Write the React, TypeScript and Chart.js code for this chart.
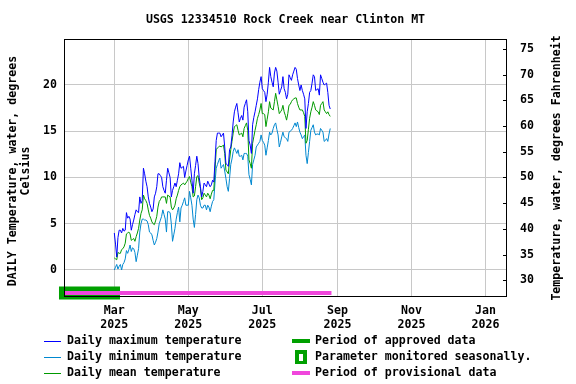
import { useEffect, useRef } from "react";
import { Chart, registerables } from "chart.js";

Chart.register(...registerables);

// Day index: 0 = 2025-01-01. First daily value is 2025-03-01.
const firstDay = 59;

const dailyMax = [
  4.0, 2.8, 1.4, 3.5, 4.3, 4.3, 4.0, 4.5, 4.2, 4.3,
  6.2, 5.6, 5.8, 5.5, 4.3, 4.9, 5.4, 6.0, 6.5, 6.3,
  6.2, 7.9, 7.2, 7.5, 11.0, 10.4, 9.6, 9.0, 7.9, 7.2,
  6.8, 6.3, 6.6, 7.9, 8.3, 9.0, 10.4, 10.4, 10.2, 10.0,
  9.0, 8.6, 8.3, 9.7, 11.0, 10.5, 10.0, 7.9, 8.6, 9.0,
  9.4, 9.0, 9.7, 10.4, 11.6, 11.0, 11.1, 11.2, 10.0, 10.7,
  11.3, 11.9, 12.3, 11.0, 9.7, 8.3, 10.4, 11.3, 12.3, 11.5,
  10.0, 9.0, 7.9, 8.5, 9.4, 9.2, 9.0, 9.6, 9.3, 9.0,
  9.2, 9.7, 9.5, 11.7, 14.0, 14.8, 14.8, 14.8, 14.4, 14.6,
  14.8, 13.3, 11.5, 11.4, 11.2, 13.0, 13.3, 14.5, 16.0, 17.1,
  17.6, 18.0, 17.0, 16.0, 16.4, 16.7, 16.2, 17.6, 18.0, 18.4,
  17.1, 14.0, 13.5, 12.6, 15.7, 16.5, 17.1, 17.8, 18.5, 19.5,
  20.3, 20.9, 19.6, 19.4, 19.2, 18.2, 19.0, 20.3, 21.9, 20.9,
  20.3, 19.8, 21.3, 21.9, 21.5, 20.3, 19.0, 19.4, 19.8, 20.9,
  19.6, 19.2, 18.5, 19.0, 21.1, 20.8, 20.5, 21.1, 21.5, 21.9,
  21.7, 20.7, 20.0, 19.4, 20.0, 19.4, 19.0, 18.5, 15.3, 17.1,
  18.0, 19.2, 19.4, 20.2, 21.1, 20.9, 19.4, 19.5, 19.6, 18.9,
  21.1, 20.7, 20.3, 20.0, 20.1, 20.2, 19.2, 17.8, 17.4,
];

const dailyMin = [
  0.0, 0.3, 0.6, 0.1, 0.4, 0.6, 0.0, 0.6, 0.8, 1.2,
  2.1, 1.8, 2.2, 2.7, 2.0, 2.4, 2.3, 1.9, 0.9, 1.6,
  2.3, 4.1, 5.0, 5.5, 5.5, 5.4, 5.4, 5.3, 4.9, 4.1,
  4.0, 3.8, 3.2, 2.7, 3.0, 3.4, 4.1, 5.0, 5.4, 5.8,
  6.5, 6.0, 5.5, 4.1, 6.3, 6.3, 6.2, 5.0, 3.1, 3.8,
  4.5, 5.5, 6.2, 6.8, 5.2, 6.7, 7.0, 7.4, 7.8, 7.0,
  7.0, 7.0, 8.5, 7.8, 7.0, 5.5, 4.6, 6.0, 7.6, 8.1,
  7.8, 7.0, 6.7, 6.7, 7.0, 7.0, 6.5, 7.0, 6.8, 6.3,
  6.9, 7.4, 7.6, 9.4, 11.0, 11.4, 11.8, 12.1, 11.0, 11.2,
  11.4, 10.7, 9.9, 9.0, 8.5, 9.9, 11.4, 12.0, 12.8, 13.2,
  12.9, 12.6, 13.0, 12.3, 12.3, 12.4, 11.9, 12.6, 12.6, 12.6,
  12.3, 10.3, 9.8, 9.2, 11.4, 11.9, 12.4, 13.3, 13.5, 13.7,
  13.9, 14.6, 14.0, 13.8, 13.5, 12.4, 13.2, 14.0, 14.9, 14.6,
  14.8, 15.3, 15.7, 15.9, 15.2, 14.6, 13.3, 13.8, 14.4, 14.9,
  14.4, 14.3, 14.2, 13.9, 14.9, 15.0, 15.1, 15.3, 15.6, 15.9,
  15.5, 16.0, 15.4, 14.9, 14.6, 14.2, 14.4, 14.6, 12.4, 11.5,
  12.7, 13.9, 15.1, 15.4, 15.7, 14.9, 14.6, 14.7, 14.7, 14.6,
  15.3, 15.1, 14.9, 13.9, 14.0, 14.2, 13.9, 14.7, 15.3,
];

const dailyMean = [
  1.3, 1.2, 1.1, 1.9, 1.8, 1.8, 2.2, 2.3, 2.5, 2.9,
  3.9, 4.0, 4.1, 3.9, 3.2, 3.3, 3.4, 3.1, 3.6, 4.0,
  4.5, 5.4, 6.1, 6.5, 8.1, 7.7, 7.5, 7.2, 6.5, 5.9,
  5.6, 5.2, 5.0, 4.9, 5.3, 5.8, 6.8, 7.4, 7.6, 7.9,
  7.9, 7.9, 7.9, 7.2, 8.1, 8.0, 7.9, 6.8, 6.5, 6.7,
  7.0, 7.7, 8.1, 8.6, 9.0, 9.2, 9.3, 9.4, 9.2, 9.4,
  9.6, 9.9, 10.1, 9.5, 9.0, 7.9, 8.0, 9.0, 10.1, 10.2,
  9.4, 8.8, 7.6, 7.8, 8.3, 8.1, 7.9, 8.3, 8.1, 7.7,
  8.2, 8.6, 8.6, 10.8, 13.0, 13.2, 13.3, 13.4, 13.3, 13.4,
  13.5, 12.6, 10.8, 10.6, 10.4, 11.9, 13.0, 13.9, 14.8, 15.5,
  15.6, 15.7, 15.1, 14.6, 14.7, 14.8, 14.4, 15.3, 15.6, 15.9,
  15.1, 11.9, 11.5, 11.0, 13.7, 14.4, 15.1, 15.7, 16.4, 16.8,
  17.3, 18.0, 16.9, 16.9, 16.8, 15.5, 16.3, 17.1, 18.2, 17.5,
  17.4, 17.3, 18.2, 19.1, 18.4, 17.7, 16.9, 17.1, 17.3, 17.8,
  17.1, 16.7, 16.2, 16.9, 17.8, 17.9, 18.2, 18.4, 18.5, 18.6,
  18.6, 18.0, 17.6, 17.3, 17.3, 17.3, 17.0, 16.6, 13.7, 14.0,
  15.2, 16.4, 17.1, 17.6, 18.2, 17.8, 17.3, 17.2, 17.1, 16.8,
  17.8, 18.0, 18.2, 17.3, 17.1, 16.9, 17.1, 16.8, 16.6,
];

const tickDays = [59, 120, 181, 243, 304, 365];
const tickMonths = ["Mar", "May", "Jul", "Sep", "Nov", "Jan"];
const tickYears = ["2025", "2025", "2025", "2025", "2025", "2026"];
const celsiusTicks = [0, 5, 10, 15, 20];
const fahrenheitTicks = [30, 35, 40, 45, 50, 55, 60, 65, 70, 75];

const approvedPeriod = [13.4, 63.7];
const provisionalPeriod = [17.53, 238];
const periodBarLevel = -2.5;

const X_MIN = 17.53;
const X_MAX = 382.7;
const C_MIN = -2.92;
const C_MAX = 24.97;

const FAMILY = "'DejaVu Sans Mono', monospace";
const FONT_SIZE = 11.6;

const COLOR_MAX = "#0000ff";
const COLOR_MIN = "#0088d0";
const COLOR_MEAN = "#009a00";
const COLOR_APPROVED = "#00a000";
const COLOR_PROV = "#f046dc";

const toPts = (arr: number[]) => arr.map((v, i) => ({ x: firstDay + i, y: v }));

const decor = {
  id: "decor",
  afterDatasetsDraw(chart: any) {
    const { ctx, chartArea, scales } = chart;
    ctx.save();
    // right-axis inward tick marks
    ctx.strokeStyle = "#000";
    ctx.lineWidth = 1;
    const y2 = scales.y2;
    ctx.beginPath();
    for (const f of fahrenheitTicks) {
      const py = Math.round(y2.getPixelForValue(f)) + 0.5;
      ctx.moveTo(chartArea.right - 4, py);
      ctx.lineTo(chartArea.right, py);
    }
    ctx.stroke();
    // plot frame
    ctx.strokeRect(
      chartArea.left + 0.5,
      chartArea.top + 0.5,
      chartArea.right - chartArea.left - 1,
      chartArea.bottom - chartArea.top - 1
    );
    ctx.restore();
  },
  afterDraw(chart: any) {
    const { ctx, chartArea } = chart;
    ctx.save();
    ctx.fillStyle = "#000";
    ctx.font = `bold ${FONT_SIZE}px ${FAMILY}`;
    ctx.textBaseline = "middle";
    // title
    ctx.textAlign = "center";
    ctx.fillText("USGS 12334510 Rock Creek near Clinton MT", (chartArea.left + chartArea.right) / 2, 20);
    // left axis title
    const midY = (chartArea.top + chartArea.bottom) / 2;
    ctx.save();
    ctx.translate(13, midY + 3);
    ctx.rotate(-Math.PI / 2);
    ctx.fillText("DAILY Temperature, water, degrees", 0, 0);
    ctx.restore();
    ctx.save();
    ctx.translate(25.5, midY + 3);
    ctx.rotate(-Math.PI / 2);
    ctx.fillText("Celsius", 0, 0);
    ctx.restore();
    // right axis title
    ctx.save();
    ctx.translate(557, midY);
    ctx.rotate(-Math.PI / 2);
    ctx.fillText("Temperature, water, degrees Fahrenheit", 0, 0);
    ctx.restore();

    // legend
    ctx.textAlign = "left";
    const rows = [341, 357, 373];
    const left = [
      { label: "Daily maximum temperature", color: COLOR_MAX },
      { label: "Daily minimum temperature", color: COLOR_MIN },
      { label: "Daily mean temperature", color: COLOR_MEAN },
    ];
    left.forEach((it, i) => {
      const y = rows[i] + 0.5;
      ctx.strokeStyle = it.color;
      ctx.lineWidth = 1;
      ctx.beginPath();
      ctx.moveTo(44, y);
      ctx.lineTo(61, y);
      ctx.stroke();
      ctx.fillStyle = "#000";
      ctx.fillText(it.label, 67, rows[i]);
    });
    // approved
    ctx.fillStyle = COLOR_APPROVED;
    ctx.fillRect(292, rows[0] - 2, 18, 4);
    ctx.fillStyle = "#000";
    ctx.fillText("Period of approved data", 315, rows[0]);
    // seasonal icon
    ctx.fillStyle = COLOR_APPROVED;
    ctx.fillRect(295, rows[1] - 7, 12, 14);
    ctx.fillStyle = "#fff";
    ctx.fillRect(299, rows[1] - 3, 4, 7);
    ctx.fillStyle = "#000";
    ctx.fillText("Parameter monitored seasonally.", 315, rows[1]);
    // provisional
    ctx.fillStyle = COLOR_PROV;
    ctx.fillRect(292, rows[2] - 2, 18, 4);
    ctx.fillStyle = "#000";
    ctx.fillText("Period of provisional data", 315, rows[2]);
    ctx.restore();
  },
};

export default function App() {
  const ref = useRef<HTMLCanvasElement | null>(null);
  useEffect(() => {
    if (!ref.current) return;
    const font = { family: FAMILY, size: FONT_SIZE, weight: "bold" as const, lineHeight: 1.2 };
    const chart = new Chart(ref.current, {
      type: "line",
      data: {
        datasets: [
          { label: "Daily maximum temperature", data: toPts(dailyMax), borderColor: COLOR_MAX, borderWidth: 1, pointRadius: 0, order: 1 },
          { label: "Daily mean temperature", data: toPts(dailyMean), borderColor: COLOR_MEAN, borderWidth: 1, pointRadius: 0, order: 2 },
          { label: "Daily minimum temperature", data: toPts(dailyMin), borderColor: COLOR_MIN, borderWidth: 1, pointRadius: 0, order: 3 },
          {
            label: "Period of provisional data",
            data: provisionalPeriod.map((x) => ({ x, y: periodBarLevel })),
            borderColor: COLOR_PROV, borderWidth: 4, borderCapStyle: "butt", pointRadius: 0, clip: false as any, order: 4,
          },
          {
            label: "Period of approved data",
            data: approvedPeriod.map((x) => ({ x, y: periodBarLevel })),
            borderColor: COLOR_APPROVED, borderWidth: 13, borderCapStyle: "butt", pointRadius: 0, clip: false as any, order: 5,
          },
        ],
      },
      options: {
        animation: false,
        responsive: false,
        events: [],
        layout: { padding: { top: 39, left: 0, right: 0, bottom: 0 } },
        plugins: { legend: { display: false }, title: { display: false }, tooltip: { enabled: false } },
        scales: {
          x: {
            type: "linear",
            min: X_MIN,
            max: X_MAX,
            afterBuildTicks: (s: any) => { s.ticks = tickDays.map((v) => ({ value: v })); },
            afterFit: (s: any) => { s.height = 384 - 297; },
            ticks: {
              font,
              color: "#000",
              padding: 7,
              maxRotation: 0,
              autoSkip: false,
              callback: (v: any) => {
                const i = tickDays.indexOf(Number(v));
                return i >= 0 ? [tickMonths[i], tickYears[i]] : "";
              },
            },
            grid: { color: "#c8c8c8", drawTicks: false },
            border: { display: false },
          },
          y: {
            position: "left",
            min: C_MIN,
            max: C_MAX,
            afterBuildTicks: (s: any) => { s.ticks = celsiusTicks.map((v) => ({ value: v })); },
            afterFit: (s: any) => { s.width = 64; },
            ticks: { font, color: "#000", padding: 7 },
            grid: { color: "#c8c8c8", drawTicks: false },
            border: { display: false },
          },
          y2: {
            position: "right",
            min: C_MIN * 1.8 + 32,
            max: C_MAX * 1.8 + 32,
            afterBuildTicks: (s: any) => { s.ticks = fahrenheitTicks.map((v) => ({ value: v })); },
            afterFit: (s: any) => { s.width = 576 - 507; },
            ticks: { font, color: "#000", padding: 13 },
            grid: { display: false, drawTicks: false },
            border: { display: false },
          },
        },
      },
      plugins: [decor],
    });
    return () => chart.destroy();
  }, []);
  return (
    <div style={{ position: "absolute", left: 0, top: 0, width: 576, height: 384, background: "#fff" }}>
      <canvas ref={ref} width={576} height={384} style={{ display: "block" }} />
    </div>
  );
}
